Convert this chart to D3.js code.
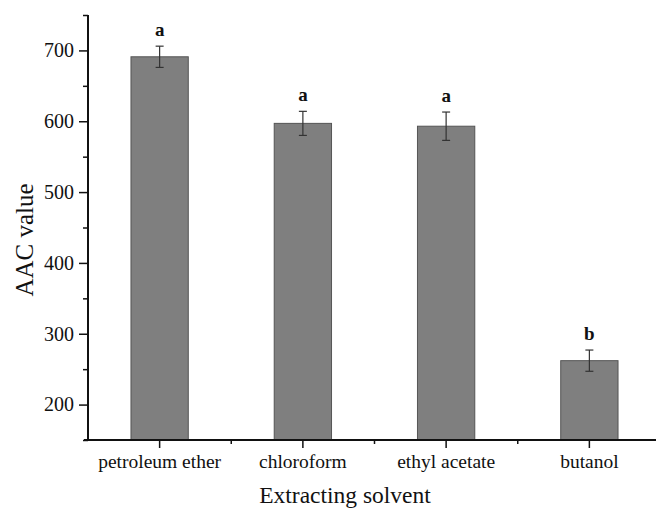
<!DOCTYPE html>
<html><head><meta charset="utf-8">
<script src="https://cdn.jsdelivr.net/npm/d3@7"></script>
<style>body{margin:0;background:#fff}svg{display:block}text{font-family:"Liberation Serif","Times New Roman",serif}</style>
</head><body>
<svg id="c" width="656" height="508"></svg>
<script>
const categories = ["petroleum ether", "chloroform", "ethyl acetate", "butanol"];
const values = [691, 597, 593, 262];
const errors = [15, 17, 20, 15];
const letters = ["a", "a", "a", "b"];
const yTicks = [200, 300, 400, 500, 600, 700];
const yMinorTicks = [150, 250, 350, 450, 550, 650, 750];

const svg = d3.select("#c");
const x0 = 88, x1 = 661, yTop = 15, yBot = 440;
const x = d3.scaleBand().domain(categories).range([x0, x1]).paddingInner(0.6).paddingOuter(0.3);
const y = d3.scaleLinear().domain([150, 750]).range([yBot, yTop]);

// bars
svg.selectAll("rect.bar").data(values).enter().append("rect")
  .attr("class","bar")
  .attr("x",(d,i)=>x(categories[i]))
  .attr("width",x.bandwidth())
  .attr("y",d=>y(d))
  .attr("height",d=>yBot-y(d))
  .attr("fill","#7f7f7f").attr("stroke","#555").attr("stroke-width",1);

// error bars
const cx = i => x(categories[i]) + x.bandwidth()/2;
const eg = svg.append("g").attr("stroke","#333").attr("stroke-width",1.2);
values.forEach((v,i)=>{
  eg.append("line").attr("x1",cx(i)).attr("x2",cx(i)).attr("y1",y(v+errors[i])).attr("y2",y(v-errors[i]));
  eg.append("line").attr("x1",cx(i)-4).attr("x2",cx(i)+4).attr("y1",y(v+errors[i])).attr("y2",y(v+errors[i]));
  eg.append("line").attr("x1",cx(i)-4).attr("x2",cx(i)+4).attr("y1",y(v-errors[i])).attr("y2",y(v-errors[i]));
});
svg.selectAll("text.sig").data(letters).enter().append("text")
  .attr("class","sig").attr("x",(d,i)=>cx(i)).attr("y",(d,i)=>y(values[i]+errors[i])-10)
  .attr("text-anchor","middle").attr("font-size",19).attr("font-weight","bold").attr("fill","#111").text(d=>d);

// y axis
const yAxis = d3.axisLeft(y).tickValues(yTicks).tickSize(9).tickPadding(5).tickFormat(d3.format("d"));
const yg = svg.append("g").attr("transform",`translate(${x0},0)`).call(yAxis);
yg.select(".domain").remove();
yg.selectAll(".tick line").attr("stroke","#111").attr("stroke-width",1.5);
yg.selectAll(".tick text").attr("font-size",20).attr("fill","#111").style("font-family","Liberation Serif");
const ym = svg.append("g").attr("transform",`translate(${x0},0)`).call(d3.axisLeft(y).tickValues(yMinorTicks).tickSize(5).tickFormat(""));
ym.select(".domain").remove();
ym.selectAll(".tick line").attr("stroke","#111").attr("stroke-width",1.5);
svg.append("line").attr("x1",x0).attr("x2",x0).attr("y1",yTop).attr("y2",yBot+1).attr("stroke","#111").attr("stroke-width",2);

// x axis
const xAxis = d3.axisBottom(x).tickSize(8).tickPadding(6);
const xg = svg.append("g").attr("transform",`translate(0,${yBot})`).call(xAxis);
xg.select(".domain").remove();
xg.selectAll(".tick line").attr("stroke","#111").attr("stroke-width",1.5);
xg.selectAll(".tick text").attr("font-size",19.5).attr("fill","#111").style("font-family","Liberation Serif");
const bounds = categories.slice(1).map(c=>x(c)-x.step()*x.paddingInner()/2);
bounds.push(x(categories[3])+x.bandwidth()+x.step()*x.paddingInner()/2);
svg.append("g").selectAll("line").data(bounds).enter().append("line")
  .attr("x1",d=>d).attr("x2",d=>d).attr("y1",yBot).attr("y2",yBot+4).attr("stroke","#111").attr("stroke-width",1.5);
svg.append("line").attr("x1",84).attr("x2",x1).attr("y1",yBot).attr("y2",yBot).attr("stroke","#111").attr("stroke-width",2);

// titles
svg.append("text").attr("transform","translate(33,240) rotate(-90)").attr("text-anchor","middle")
  .attr("font-size",25).attr("fill","#111").text("AAC value");
svg.append("text").attr("x",345).attr("y",503).attr("text-anchor","middle")
  .attr("font-size",23.5).attr("fill","#111").text("Extracting solvent");
</script>
</body></html>
